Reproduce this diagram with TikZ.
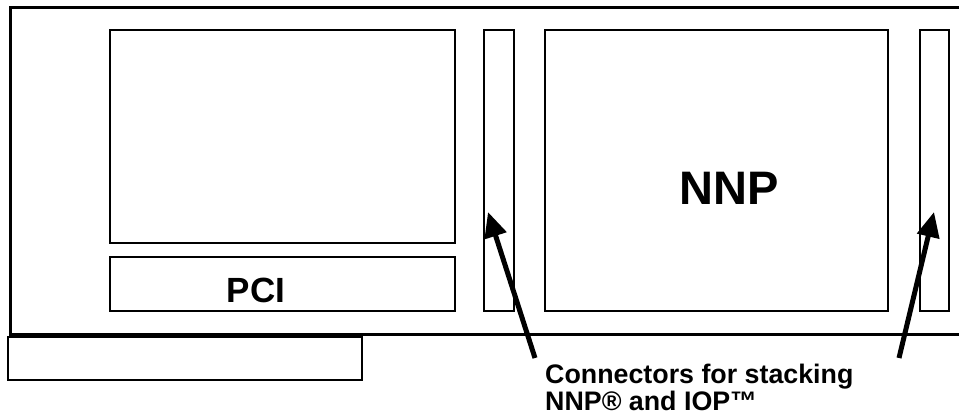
\documentclass[tikz,border=0pt]{standalone}
\usepackage{fontspec}
\setmainfont{Liberation Sans}
\usetikzlibrary{arrows.meta}
\begin{document}
\begin{tikzpicture}[x=1pt,y=-1pt,
  box/.style={draw,line width=2.4pt,inner sep=0pt,outer sep=0pt,anchor=north west},
  board/.style={line width=3pt},
  pointer/.style={line width=5pt,-{Triangle[length=25pt,width=22pt]}},
  lbl/.style={font=\bfseries},
]
\useasboundingbox (0,0) rectangle (959,420);
% board outline
\draw[board] (959,8) -- (10,8) -- (10,334) -- (959,334);
% boxes
\node[box,minimum width=345pt,minimum height=213pt] (cpu) at (110,30) {};
\node[box,minimum width=345pt,minimum height=54pt] (pci) at (110,257) {};
\node[box,minimum width=30pt,minimum height=281pt] (con1) at (484,30) {};
\node[box,minimum width=343pt,minimum height=281pt] (nnp) at (545,30) {};
\node[box,minimum width=29pt,minimum height=281pt] (con2) at (920,30) {};
\node[box,minimum width=354pt,minimum height=43pt] (edge) at (8,337) {};
% labels
\node[lbl,font=\bfseries\fontsize{47}{50}\selectfont] (nnplabel) at (729,188) {NNP};
\node[lbl,font=\bfseries\fontsize{35}{38}\selectfont] (pcilabel) at (256,290) {PCI};
\node[lbl,font=\bfseries\fontsize{26.8}{27}\selectfont,align=left,anchor=north west,inner sep=0pt] (caption) at (545,364) {Connectors for stacking\\NNP® and IOP™};
% arrows
\coordinate (t1) at (535,358);
\coordinate (h1) at (488,212);
\coordinate (t2) at (899,358);
\coordinate (h2) at (934,212);
\draw[pointer] (t1) -- (h1);
\draw[pointer] (t2) -- (h2);
\end{tikzpicture}
\end{document}
